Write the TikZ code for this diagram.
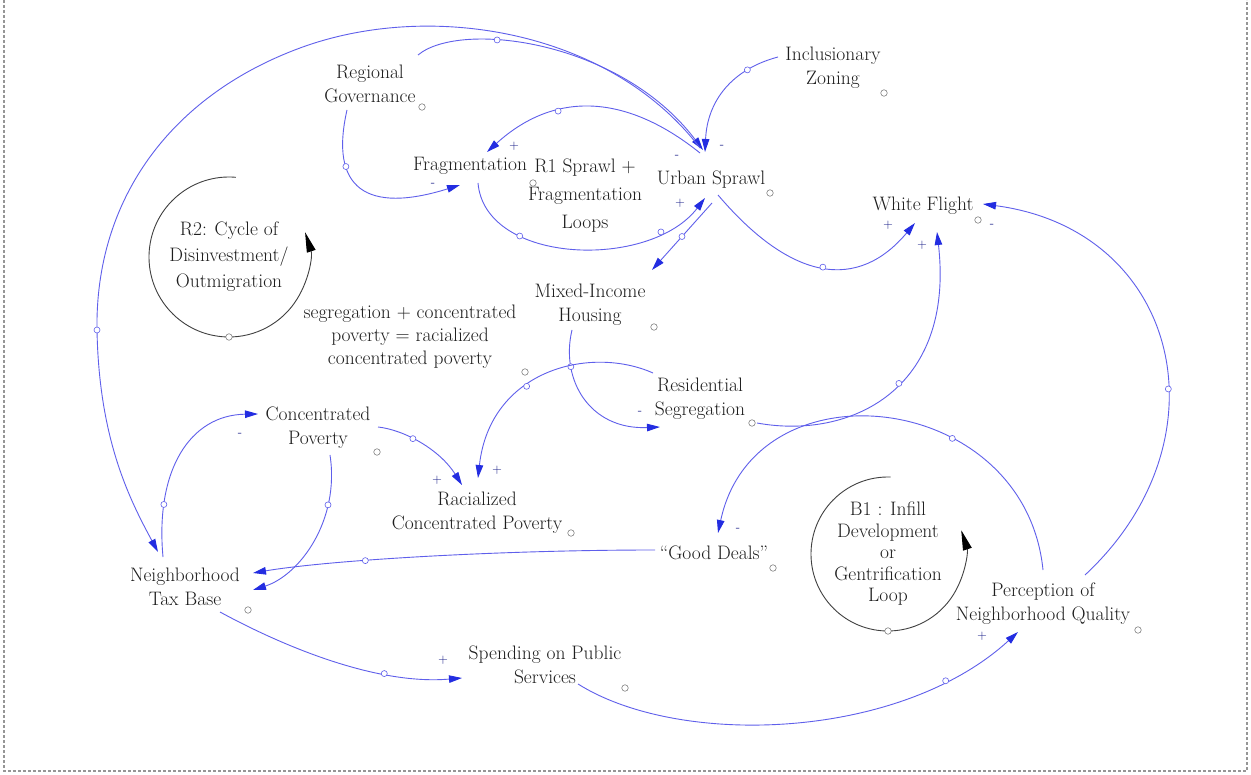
\documentclass[tikz,border=0pt]{standalone}
\usepackage{fontspec}
\usetikzlibrary{arrows.meta}
\definecolor{linkblue}{RGB}{95,95,235}
\definecolor{headblue}{RGB}{35,45,225}
\definecolor{txtgray}{RGB}{30,30,30}
\definecolor{framegray}{RGB}{150,150,150}
\begin{document}
\begin{tikzpicture}[x=1pt,y=-1pt,
  var/.style={font=\fontsize{19.5}{24}\selectfont, text=txtgray, align=center, inner sep=0pt},
  link/.style={draw=linkblue, line width=0.9pt, -{Triangle[length=13pt,width=7.5pt,color=headblue]}},
  hc/.style={circle, draw=linkblue, fill=white, inner sep=0pt, minimum size=6pt, line width=0.6pt},
  vc/.style={circle, draw=gray, fill=white, inner sep=0pt, minimum size=6.5pt, line width=0.6pt},
  pol/.style={font=\fontsize{13}{13}\selectfont, text=headblue!60!black, inner sep=0pt},
  loopline/.style={draw=black!75, line width=0.9pt, -{Triangle[length=20pt,width=9pt,color=black]}}]
\useasboundingbox (0,0) rectangle (1251,775);
\fill[white] (0,0) rectangle (1251,775);
\draw[framegray, dash pattern=on 3pt off 2pt, line width=1.3pt] (4,0) -- (4,771) -- (1247,771) -- (1247,0);

% variables
\node[var] (rg) at (370,84) {Regional\\Governance};
\node[var] (iz) at (833,68) {Inclusionary\\Zoning};
\node[var] (frag) at (470,166) {Fragmentation};
\node[var, font=\fontsize{19.5}{28}\selectfont] (r1) at (585,196) {R1 Sprawl +\\Fragmentation\\Loops};
\node[var] (us) at (711,180) {Urban Sprawl};
\node[var] (wf) at (923,206) {White Flight};
\node[var] (mih) at (590,305) {Mixed-Income\\Housing};
\node[var, font=\fontsize{19.5}{23}\selectfont] (seg) at (410,337) {segregation + concentrated\\poverty = racialized\\concentrated poverty};
\node[var] (rs) at (700,399) {Residential\\Segregation};
\node[var] (cp) at (318,428) {Concentrated\\Poverty};
\node[var] (rcp) at (477,513) {Racialized\\Concentrated Poverty};
\node[var] (gd) at (714,553) {``Good Deals''};
\node[var] (ntb) at (185,587) {Neighborhood\\Tax Base};
\node[var] (pnq) at (1043,604) {Perception of\\Neighborhood Quality};
\node[var] (sps) at (545,665) {Spending on Public\\Services};
\node[var, font=\fontsize{19.5}{26}\selectfont] (r2) at (229,257) {R2: Cycle of\\Disinvestment/\\Outmigration};
\node[var, font=\fontsize{19.5}{21.5}\selectfont] (b1) at (888,554) {B1 : Infill\\Development\\or\\Gentrification\\Loop};

% variable handles
\node[vc] (crg) at (422,107) {};
\node[vc] (ciz) at (884,93) {};
\node[vc] (cus) at (770,193) {};
\node[vc] (cwf) at (978,220) {};
\node[vc] (cmih) at (654,327) {};
\node[vc] (cseg) at (525,372) {};
\node[vc] (crs) at (752,423) {};
\node[vc] (ccp) at (377,452) {};
\node[vc] (crcp) at (571,533) {};
\node[vc] (cgd) at (773,568) {};
\node[vc] (cntb) at (248,610) {};
\node[vc] (cpnq) at (1138,630) {};
\node[vc] (csps) at (625,688) {};
\node[vc] (cr1) at (533,183) {};

% loop markers
\draw[loopline] ([shift={(-85:80)}]r2.center) arc[start angle=-85, end angle=-378, radius=80];
\node[vc] (cr2) at ([shift={(0,80)}]r2.center) {};
\draw[loopline] ([shift={(-88:77)}]b1.center) arc[start angle=-88, end angle=-378, radius=77];
\node[vc] (cb1) at ([shift={(0,77)}]b1.center) {};

% links
\draw[link] ([shift={(-23,26)}]rg.center) .. controls (329,189) and (367,214) .. ([shift={(-10,19)}]frag.center) node[hc,pos=.3] (h1) {};
\draw[link] ([shift={(-11,-27)}]us.center) .. controls (624,92) and (553,92) .. ([shift={(17,-14)}]frag.center) node[hc,pos=.65] (h2) {};
\draw[link] ([shift={(8,17)}]frag.center) .. controls (485,265) and (650,270) .. ([shift={(-6,18)}]us.center) node[hc,pos=.3] (h3a) {} node[hc,pos=.8] (h3b) {};
\draw[link] ([shift={(1,23)}]us.center) -- ([shift={(62,-35)}]mih.center) node[hc,pos=.5] (h4) {};
\draw[link] ([shift={(-55,-11)}]iz.center) .. controls (731.7,69.3) and (707.3,101) .. ([shift={(-6,-28)}]us.center) node[hc,pos=.25] (h5) {};
\draw[link] ([shift={(48,-29)}]rg.center) .. controls (460,20) and (620,40) .. ([shift={(-8,-30)}]us.center) node[hc,pos=.35] (h6) {};
\draw[link] ([shift={(-11,-32)}]us.center) .. controls (610,30) and (430,0) .. (300,48) .. controls (170,96) and (95,200) .. (97,330) node[hc] (h7) {} .. controls (99,440) and (130,500) .. ([shift={(-27,-35)}]ntb.center);
\draw[link] ([shift={(7,15)}]us.center) .. controls (792,282) and (858,291) .. ([shift={(-8,17)}]wf.center) node[hc,pos=.5] (h8) {};
\draw[link] ([shift={(57,24)}]rs.center) .. controls (850,440) and (955,390) .. ([shift={(14,26)}]wf.center) node[hc,pos=.55] (h9) {};
\draw[link] ([shift={(42,-29)}]pnq.center) .. controls (1230,440) and (1180,230) .. ([shift={(60,-2)}]wf.center) node[hc,pos=.41] (h10) {};
\draw[link] ([shift={(0,-34)}]pnq.center) .. controls (1025,390) and (755,360) .. ([shift={(4,-20)}]gd.center) node[hc,pos=.35] (h11) {};
\draw[link] ([shift={(-18,25)}]mih.center) .. controls (560,380) and (590,430) .. ([shift={(-40,28)}]rs.center) node[hc,pos=.25] (h12) {};
\draw[link] ([shift={(-47,-26)}]rs.center) .. controls (590,345) and (490,370) .. ([shift={(1,-35)}]rcp.center) node[hc,pos=.6] (h13) {};
\draw[link] ([shift={(60,-1)}]cp.center) .. controls (405,430) and (440,450) .. ([shift={(-15,-28)}]rcp.center) node[hc,pos=.4] (h14) {};
\draw[link] ([shift={(-22,-30)}]ntb.center) .. controls (155,470) and (190,415) .. ([shift={(-60,-14)}]cp.center) node[hc,pos=.22] (h15) {};
\draw[link] ([shift={(12,27)}]cp.center) .. controls (340,520) and (300,575) .. ([shift={(68,3)}]ntb.center) node[hc,pos=.27] (h16) {};
\draw[link] ([shift={(-59,-3)}]gd.center) .. controls (500,550) and (330,560) .. ([shift={(68,-14)}]ntb.center) node[hc,pos=.645] (h17) {};
\draw[link] ([shift={(35,25)}]ntb.center) .. controls (290,650) and (380,685) .. ([shift={(-83,13)}]sps.center) node[hc,pos=.69] (h18) {};
\draw[link] ([shift={(33,19)}]sps.center) .. controls (680,748) and (900,740) .. ([shift={(-25,28)}]pnq.center) node[hc,pos=.82] (h19) {};

% polarities
\node[pol] (s1) at (514,146) {+};
\node[pol] (s2) at (433,185) {-};
\node[pol] (s3) at (677,157) {-};
\node[pol] (s4) at (722,147) {-};
\node[pol] (s5) at (680,203) {+};
\node[pol] (s6) at (888,225) {+};
\node[pol] (s7) at (922,245) {+};
\node[pol] (s8) at (992,226) {-};
\node[pol] (s9) at (738,530) {-};
\node[pol] (s10) at (640,413) {-};
\node[pol] (s11) at (497,470) {+};
\node[pol] (s12) at (437,480) {+};
\node[pol] (s13) at (240,435) {-};
\node[pol] (s14) at (443,660) {+};
\node[pol] (s15) at (982,636) {+};
\end{tikzpicture}
\end{document}
